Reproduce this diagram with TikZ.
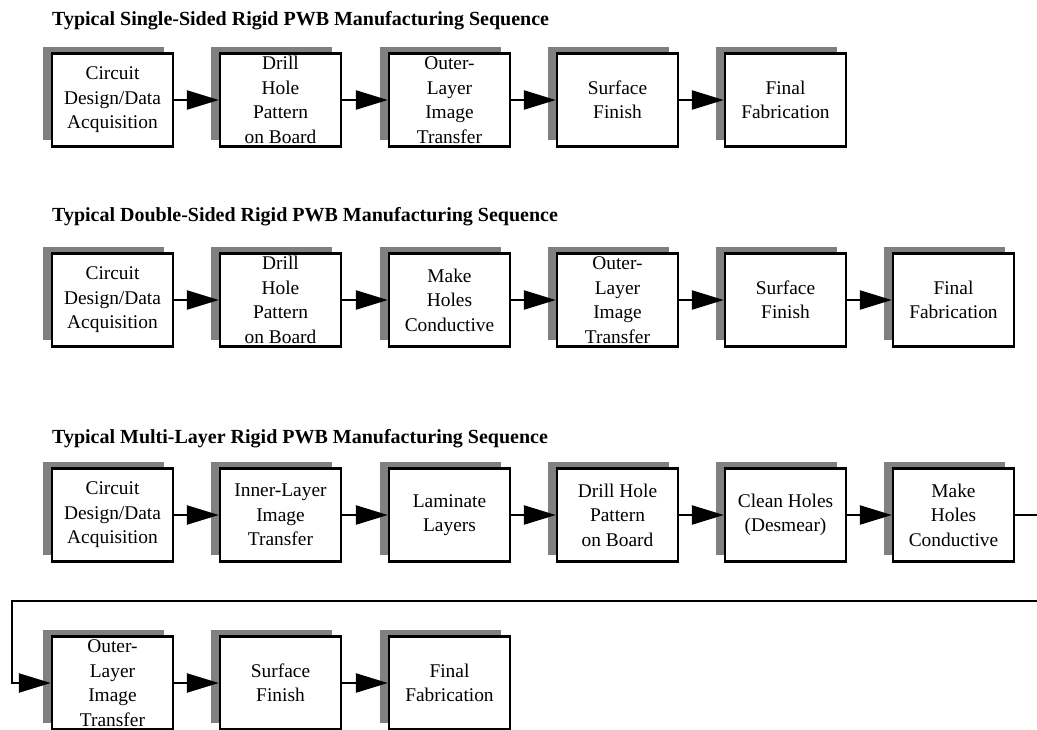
\documentclass[tikz,border=0pt]{standalone}
\usepackage{fontspec}
\setmainfont{Liberation Serif}
\usetikzlibrary{arrows.meta,shadows}

\tikzset{
  stage/.style={draw=black, line width=2.4pt, fill=white,
    minimum width=121pt, minimum height=93pt, inner sep=0pt,
    align=center, font=\fontsize{19.4}{24.5}\selectfont,
    general shadow={fill=gray, shadow xshift=-9pt, shadow yshift=7pt}},
  flow/.style={draw=black, line width=2.4pt,
    -{Triangle[length=32pt,width=19pt]}},
  heading/.style={anchor=base west, inner sep=0pt,
    font=\fontsize{20}{24}\bfseries},
}

\begin{document}
\begin{tikzpicture}[x=1pt,y=-1pt]
  \useasboundingbox (0,0) rectangle (1037,729);

  % ---- single-sided board ----
  \node[heading] (h1) at (52,25) {Typical Single-Sided Rigid PWB Manufacturing Sequence};
  \node[stage] (a1) at (112.5,100) {Circuit\\Design/Data\\Acquisition};
  \node[stage] (a2) at (280.5,100) {Drill\\Hole\\Pattern\\on Board};
  \node[stage] (a3) at (449.5,100) {Outer-\\Layer\\Image\\Transfer};
  \node[stage] (a4) at (617.5,100) {Surface\\Finish};
  \node[stage] (a5) at (785.5,100) {Final\\Fabrication};
  \foreach \p/\q in {a1/a2,a2/a3,a3/a4,a4/a5}
    \draw[flow] (\p) -- (\q);

  % ---- double-sided board ----
  \node[heading] (h2) at (52,221) {Typical Double-Sided Rigid PWB Manufacturing Sequence};
  \node[stage] (b1) at (112.5,300) {Circuit\\Design/Data\\Acquisition};
  \node[stage] (b2) at (280.5,300) {Drill\\Hole\\Pattern\\on Board};
  \node[stage] (b3) at (449.5,300) {Make\\Holes\\Conductive};
  \node[stage] (b4) at (617.5,300) {Outer-\\Layer\\Image\\Transfer};
  \node[stage] (b5) at (785.5,300) {Surface\\Finish};
  \node[stage] (b6) at (953.5,300) {Final\\Fabrication};
  \foreach \p/\q in {b1/b2,b2/b3,b3/b4,b4/b5,b5/b6}
    \draw[flow] (\p) -- (\q);

  % ---- multi-layer board ----
  \node[heading] (h3) at (52,443) {Typical Multi-Layer Rigid PWB Manufacturing Sequence};
  \node[stage] (c1) at (112.5,515) {Circuit\\Design/Data\\Acquisition};
  \node[stage] (c2) at (280.5,515) {Inner-Layer\\Image\\Transfer};
  \node[stage] (c3) at (449.5,515) {Laminate\\Layers};
  \node[stage] (c4) at (617.5,515) {Drill Hole\\Pattern\\on Board};
  \node[stage] (c5) at (785.5,515) {Clean Holes\\(Desmear)};
  \node[stage] (c6) at (953.5,515) {Make\\Holes\\Conductive};
  \node[stage] (d1) at (112.5,683) {Outer-\\Layer\\Image\\Transfer};
  \node[stage] (d2) at (280.5,683) {Surface\\Finish};
  \node[stage] (d3) at (449.5,683) {Final\\Fabrication};
  \foreach \p/\q in {c1/c2,c2/c3,c3/c4,c4/c5,c5/c6,d1/d2,d2/d3}
    \draw[flow] (\p) -- (\q);

  % wrap-around from the end of the first line to the second
  \coordinate (w1) at (1050,515);
  \coordinate (w2) at (1050,601);
  \coordinate (w3) at (12,601);
  \coordinate (w4) at (12,683);
  \draw[flow] (c6.east) -- (w1) -- (w2) -- (w3) -- (w4) -- (d1.west);
\end{tikzpicture}
\end{document}
